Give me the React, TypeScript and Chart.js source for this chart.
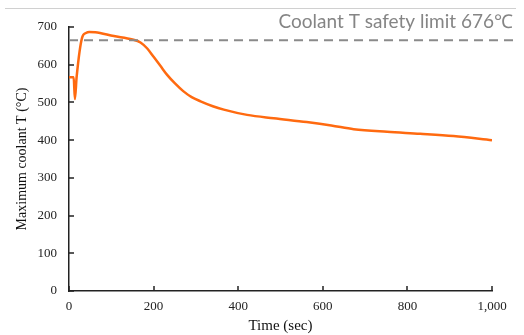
import React, { useEffect, useRef } from "react";
import { Chart, registerables } from "chart.js";

Chart.register(...registerables);

const timeSec = [0, 11, 14, 18, 31, 40, 48, 62, 106, 150, 169, 185, 200, 216, 232, 250, 270, 290, 311, 340, 366, 421, 484, 562, 620, 673, 752, 830, 909, 1000];
const coolantT = [567, 567, 509, 567, 672, 684, 687, 686, 676, 667, 659, 643, 621, 597, 573, 551, 530, 514, 503, 490, 481, 467, 458, 448, 439, 429, 422, 417, 411, 400];
const limitT = 665;
const limitLabel = "Coolant T safety limit 676\u2103";
const xTicks = [0, 200, 400, 600, 800, 1000];
const yTicks = [0, 100, 200, 300, 400, 500, 600, 700];

const innerTicks = {
  id: "innerTicks",
  afterDraw(chart: any) {
    const ctx = chart.ctx;
    const xs = chart.scales.x;
    const ys = chart.scales.y;
    const area = chart.chartArea;
    ctx.save();
    ctx.strokeStyle = "#222";
    ctx.lineWidth = 1.5;
    ctx.beginPath();
    xTicks.forEach((v) => {
      const px = Math.round(xs.getPixelForValue(v));
      ctx.moveTo(px, area.bottom);
      ctx.lineTo(px, area.bottom - 5);
    });
    yTicks.forEach((v) => {
      const py = Math.round(ys.getPixelForValue(v));
      ctx.moveTo(area.left, py);
      ctx.lineTo(area.left + 5, py);
    });
    ctx.stroke();
    // annotation
    ctx.fillStyle = "#858585";
    ctx.font = "19px Lato";
    ctx.textAlign = "right";
    ctx.textBaseline = "alphabetic";
    ctx.fillText(limitLabel, 513, 28, 238);
    // top frame line
    ctx.strokeStyle = "#d0d0d0";
    ctx.lineWidth = 1;
    ctx.beginPath();
    ctx.moveTo(5, 8.5);
    ctx.lineTo(516, 8.5);
    ctx.stroke();
    ctx.restore();
  },
};

export default function App() {
  const ref = useRef<HTMLCanvasElement>(null);
  useEffect(() => {
    if (!ref.current) return;
    const chart = new Chart(ref.current, {
      type: "line",
      data: {
        datasets: [
          {
            data: [
              { x: 0, y: limitT },
              { x: 1055, y: limitT },
            ],
            borderColor: "#8a8a8a",
            borderWidth: 2,
            borderDash: [9, 6],
            pointRadius: 0,
            clip: false as any,
          },
          {
            data: timeSec.map((t, i) => ({ x: t, y: coolantT[i] })),
            borderColor: "#ff6a10",
            borderWidth: 2.5,
            pointRadius: 0,
            cubicInterpolationMode: "monotone",
          },
        ],
      },
      options: {
        animation: false,
        responsive: false,
        layout: { padding: { left: 0, right: 32, top: 27, bottom: 0 } },
        plugins: { legend: { display: false }, tooltip: { enabled: false } },
        scales: {
          x: {
            type: "linear",
            min: 0,
            max: 1000,
            afterFit: (s: any) => {
              s.height = 44;
            },
            afterBuildTicks: (s: any) => {
              s.ticks = xTicks.map((v) => ({ value: v }));
            },
            ticks: {
              color: "#222",
              font: { family: "'Liberation Serif'", size: 13 },
              padding: 8,
              maxRotation: 0,
              callback: (v: any) => Number(v).toLocaleString("en-US"),
            },
            grid: { display: false, drawTicks: false },
            border: { display: true, color: "#222", width: 1.5 },
            title: {
              display: true,
              text: "Time (sec)",
              color: "#111",
              font: { family: "'Liberation Serif'", size: 15 },
              padding: { top: 0, bottom: 0 },
            },
          },
          y: {
            min: 0,
            max: 700,
            afterFit: (s: any) => {
              s.width = 69;
            },
            afterBuildTicks: (s: any) => {
              s.ticks = yTicks.map((v) => ({ value: v }));
            },
            ticks: {
              color: "#222",
              font: { family: "'Liberation Serif'", size: 13 },
              padding: 12,
            },
            grid: { display: false, drawTicks: false },
            border: { display: true, color: "#222", width: 1.5 },
            title: {
              display: true,
              text: "Maximum coolant T (\u00b0C)",
              color: "#111",
              font: { family: "'Liberation Serif'", size: 14 },
              padding: { top: 14, bottom: 0 },
            },
          },
        },
      },
      plugins: [innerTicks],
    });
    return () => chart.destroy();
  }, []);
  return (
    <div style={{ position: "fixed", left: 0, top: 0, width: 524, height: 335, background: "#fff" }}>
      <canvas ref={ref} width={524} height={335} style={{ width: 524, height: 335 }} />
    </div>
  );
}
